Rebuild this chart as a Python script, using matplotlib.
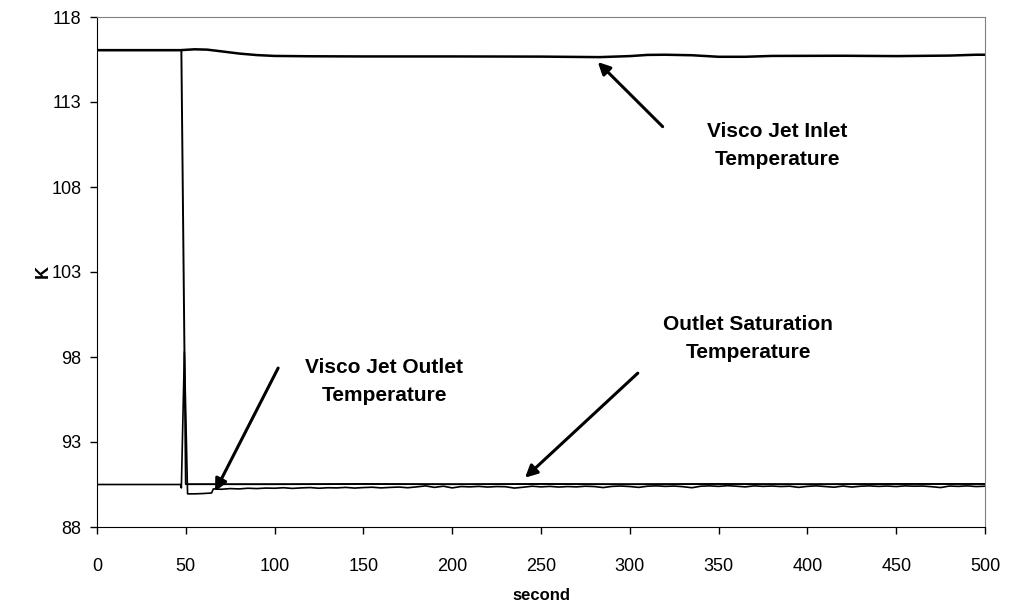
import numpy as np
import matplotlib.pyplot as plt

plt.rcParams['font.family'] = ['Liberation Sans', 'DejaVu Sans']

# Visco jet inlet temperature (K)
t_inlet = [0, 47, 55, 62, 70, 80, 90, 100, 120, 150, 200, 250, 283, 300,
           310, 320, 335, 350, 365, 380, 420, 450, 480, 495, 500]
T_inlet = [116.05, 116.05, 116.10, 116.08, 115.98, 115.85, 115.76, 115.71,
           115.69, 115.68, 115.68, 115.67, 115.64, 115.70, 115.77, 115.78,
           115.75, 115.66, 115.66, 115.71, 115.72, 115.70, 115.73, 115.78,
           115.78]

# Outlet saturation temperature (K)
t_sat = [0, 47.5, 50, 100, 150, 200, 250, 300, 350, 400, 450, 500]
T_sat = [116.05, 116.05, 90.52, 90.52, 90.53, 90.52, 90.53, 90.52, 90.53,
         90.52, 90.53, 90.53]

# Visco jet outlet temperature (K)
t_out_start = [0, 20, 40, 47, 47.5, 49.2, 51, 55, 60, 64.5, 65.5]
T_out_start = [90.50, 90.50, 90.50, 90.50, 90.30, 98.30, 89.95, 89.95,
               89.97, 90.00, 90.24]
t_out_rest = list(np.arange(70, 505, 5))
T_out_rest = [90.22, 90.26, 90.24, 90.28, 90.26, 90.29, 90.28, 90.31, 90.27,
              90.30, 90.32, 90.28, 90.31, 90.30, 90.33, 90.29, 90.32, 90.34,
              90.30, 90.33, 90.35, 90.31, 90.36, 90.42, 90.33, 90.40, 90.30,
              90.38, 90.36, 90.39, 90.35, 90.38, 90.37, 90.29, 90.34, 90.40,
              90.36, 90.39, 90.35, 90.38, 90.36, 90.40, 90.38, 90.32, 90.39,
              90.41, 90.38, 90.33, 90.40, 90.42, 90.39, 90.41, 90.37, 90.31,
              90.40, 90.42, 90.39, 90.43, 90.40, 90.36, 90.42, 90.39, 90.41,
              90.38, 90.40, 90.33, 90.39, 90.42, 90.38, 90.34, 90.41, 90.35,
              90.40, 90.42, 90.39, 90.41, 90.38, 90.42, 90.40, 90.41, 90.37,
              90.32, 90.41, 90.39, 90.42, 90.38, 90.40]
t_out = t_out_start + t_out_rest
T_out = T_out_start + T_out_rest

x_ticks = list(range(0, 501, 50))
y_ticks = [88, 93, 98, 103, 108, 113, 118]

fig = plt.figure(figsize=(10.1, 6.1), dpi=100)
ax = fig.add_axes([97/1010, 1 - 527/610, 888/1010, 510/610])

ax.plot(t_inlet, T_inlet, color='black', lw=1.8)
ax.plot(t_sat, T_sat, color='black', lw=1.4)
ax.plot(t_out, T_out, color='black', lw=1.2)

ax.set_xlim(0, 500)
ax.set_ylim(88, 118)
ax.set_xticks(x_ticks)
ax.set_yticks(y_ticks)
ax.tick_params(direction='out', length=5, width=1, labelsize=13, colors='black')
ax.tick_params(axis='x', pad=17)
ax.tick_params(axis='y', pad=6)

for side in ['top', 'right']:
    ax.spines[side].set_color('#808080')
for side in ['left', 'bottom']:
    ax.spines[side].set_color('black')

ax.set_xlabel('second', fontsize=12, fontweight='bold', labelpad=10)
ax.set_ylabel('K', fontsize=13, fontweight='bold', labelpad=0)

arrow = dict(arrowstyle='-|>', color='black', lw=2.2, mutation_scale=18,
             shrinkA=0, shrinkB=0)
text_kw = dict(fontsize=15, fontweight='bold', ha='center', va='center',
               linespacing=1.6)

ax.text(383, 110.47, 'Visco Jet Inlet\nTemperature', **text_kw)
ax.annotate('', xy=(282, 115.35), xytext=(318.5, 111.55), arrowprops=arrow)

ax.text(161.6, 96.53, 'Visco Jet Outlet\nTemperature', **text_kw)
ax.annotate('', xy=(66.5, 90.1), xytext=(102, 97.35), arrowprops=arrow)

ax.text(366.6, 99.06, 'Outlet Saturation\nTemperature', **text_kw)
ax.annotate('', xy=(241, 90.9), xytext=(304.5, 97.05), arrowprops=arrow)

fig.savefig('out.png', dpi=100)
